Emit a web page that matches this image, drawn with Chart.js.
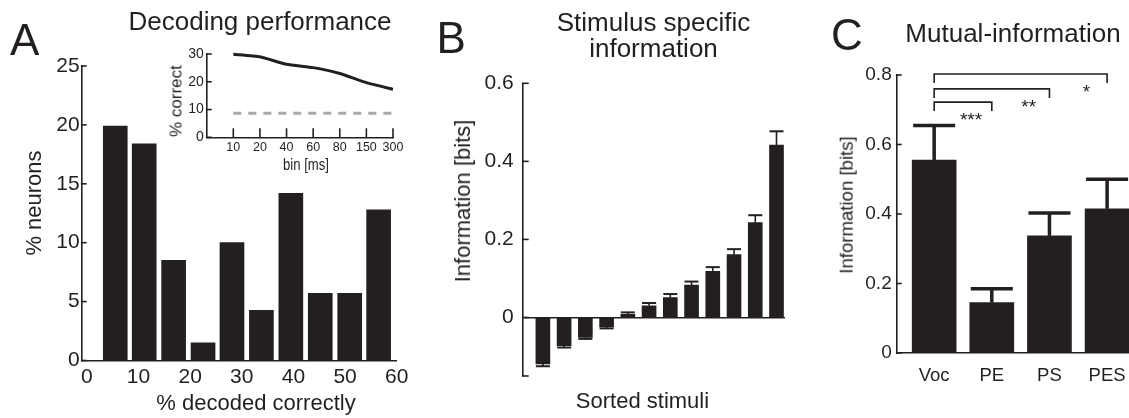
<!DOCTYPE html>
<html>
<head>
<meta charset="utf-8">
<script src="https://cdn.jsdelivr.net/npm/chart.js@4.4.1/dist/chart.umd.min.js"></script>
<style>
html,body{margin:0;padding:0;background:#fff;}
body{position:relative;width:1129px;height:418px;overflow:hidden;font-family:"Liberation Sans",Arial,Helvetica,sans-serif;color:#231f20;}
canvas{position:absolute;}
.t{position:absolute;white-space:nowrap;line-height:1;}
.hc{transform:translateX(-50%);text-align:center;}
.rot{transform:translate(-50%,-50%) rotate(-90deg);}
</style>
</head>
<body>
<canvas id="cA" width="430" height="418" style="left:0;top:0"></canvas>
<canvas id="cB" width="370" height="418" style="left:430px;top:0"></canvas>
<canvas id="cC" width="360" height="418" style="left:800px;top:0"></canvas>
<canvas id="cI" width="280" height="140" style="left:130px;top:40px"></canvas>

<div class="t" style="left:10px;top:17.8px;font-size:44px">A</div>
<div class="t" style="left:436.5px;top:16px;font-size:44px">B</div>
<div class="t" style="left:831px;top:12.8px;font-size:44px">C</div>

<div class="t hc" style="left:260px;top:8px;font-size:26px">Decoding performance</div>
<div class="t hc" style="left:653.5px;top:8.7px;font-size:26px;line-height:26px">Stimulus specific<br>information</div>
<div class="t hc" style="left:1013px;top:19.7px;font-size:26px">Mutual-information</div>

<div class="t hc" style="left:256px;top:392.4px;font-size:22px">% decoded correctly</div>
<div class="t rot" style="left:34px;top:203px;font-size:22px">% neurons</div>
<div class="t rot" style="left:463.4px;top:200.7px;font-size:22px">Information [bits]</div>
<div class="t hc" style="left:642.5px;top:389.7px;font-size:22px">Sorted stimuli</div>
<div class="t rot" style="left:846.9px;top:205px;font-size:18.6px">Information [bits]</div>
<div class="t rot" style="left:175.8px;top:101px;font-size:17px">% correct</div>
<div class="t" style="left:306px;top:157.2px;font-size:16px;transform:translateX(-50%) scaleX(0.82)">bin [ms]</div>

<script>
// ---------- data ----------
// Panel A: histogram
const binCentersA = [5.5, 11.1, 16.8, 22.5, 28.1, 33.8, 39.5, 45.2, 50.9, 56.5];
const pctNeurons  = [19.9, 18.4, 8.5, 1.5, 10.0, 4.25, 14.2, 5.7, 5.7, 12.8];
const xTicksA = [0, 10, 20, 30, 40, 50, 60];
const yTicksA = [0, 5, 10, 15, 20, 25];
// Panel A inset
const binLabels   = ['10', '20', '40', '60', '80', '150', '300'];
const pctCorrect  = [29.9, 29.0, 26.3, 25.1, 23.0, 19.7, 17.3];
const chanceLevel = [8.7, 8.7, 8.7, 8.7, 8.7, 8.7, 8.7];
const yTicksInset = [0, 10, 20, 30];
// Panel B
const stimuli = [1, 2, 3, 4, 5, 6, 7, 8, 9, 10, 11, 12];
const ssi     = [-0.119, -0.072, -0.051, -0.024, 0.008, 0.030, 0.051, 0.083, 0.118, 0.161, 0.243, 0.442];
const ssiErr  = [0.006, 0.005, 0.004, 0.004, 0.005, 0.007, 0.009, 0.009, 0.011, 0.014, 0.019, 0.035];
const yTicksB = [0, 0.2, 0.4, 0.6];
const yMinB = -0.15;
// Panel C
const miCats = ['Voc', 'PE', 'PS', 'PES'];
const mi     = [0.555, 0.145, 0.337, 0.415];
const miErr  = [0.100, 0.040, 0.066, 0.085];
const yTicksC = [0, 0.2, 0.4, 0.6, 0.8];
const sigPairs  = [[0, 1], [0, 2], [0, 3]];
const sigLevels = [0.722, 0.760, 0.803];
const sigLabels = ['***', '**', '*'];

// ---------- helpers ----------
const INK = '#231f20';
const FAM = '"Liberation Sans", Arial, Helvetica, sans-serif';
Chart.defaults.font.family = FAM;
Chart.defaults.color = INK;

function setTicks(values) { return function (scale) { scale.ticks = values.map(v => ({ value: v })); }; }
function boxWidth(w) { return function (scale) { scale.width = w; }; }
function boxHeight(h) { return function (scale) { scale.height = h; }; }
const hiddenGrid = { display: true, drawOnChartArea: false, drawTicks: false };
const axisBorder = { display: true, color: INK, width: 1.6 };
const baseOpts = {
  responsive: false, animation: false, devicePixelRatio: 1, events: [],
  plugins: { legend: { display: false }, tooltip: { enabled: false } }
};

function inwardTicks(specs) {
  return {
    id: 'inwardTicks',
    afterDraw(chart) {
      const ctx = chart.ctx;
      ctx.save();
      ctx.strokeStyle = INK; ctx.lineWidth = 1.6;
      specs.forEach(s => {
        const sc = chart.scales[s.axis];
        const vals = s.values || sc.ticks.map(t => t.value);
        vals.forEach(v => {
          const p = sc.getPixelForValue(v);
          ctx.beginPath();
          if (sc.isHorizontal()) { ctx.moveTo(p, sc.top); ctx.lineTo(p, sc.top - s.len); }
          else { ctx.moveTo(sc.right - 0.8, p); ctx.lineTo(sc.right + s.len, p); }
          ctx.stroke();
        });
      });
      ctx.restore();
    }
  };
}

function errorBars(values, errs, capW, stemW, capLW) {
  return {
    id: 'errorBars',
    afterDatasetsDraw(chart) {
      const ctx = chart.ctx, ys = chart.scales.y, meta = chart.getDatasetMeta(0);
      ctx.save();
      ctx.strokeStyle = INK;
      meta.data.forEach((bar, i) => {
        const v = values[i], e = errs[i];
        const end = v < 0 ? v - e : v + e;
        const y0 = ys.getPixelForValue(v), y1 = ys.getPixelForValue(end);
        ctx.lineWidth = stemW;
        ctx.beginPath(); ctx.moveTo(bar.x, y0); ctx.lineTo(bar.x, y1); ctx.stroke();
        ctx.lineWidth = capLW;
        ctx.beginPath(); ctx.moveTo(bar.x - capW / 2, y1); ctx.lineTo(bar.x + capW / 2, y1); ctx.stroke();
      });
      ctx.restore();
    }
  };
}

function sigBrackets(pairs, levels, labels) {
  return {
    id: 'sigBrackets',
    afterDraw(chart) {
      const ctx = chart.ctx, xs = chart.scales.x, ys = chart.scales.y;
      ctx.save();
      ctx.strokeStyle = INK; ctx.fillStyle = INK; ctx.lineWidth = 1.6;
      ctx.font = '19px ' + FAM;
      ctx.textAlign = 'center'; ctx.textBaseline = 'alphabetic';
      pairs.forEach((p, i) => {
        const x1 = xs.getPixelForValue(p[0]), x2 = xs.getPixelForValue(p[1]);
        const y = ys.getPixelForValue(levels[i]);
        const leg = 9;
        ctx.beginPath();
        ctx.moveTo(x1, y + leg); ctx.lineTo(x1, y); ctx.lineTo(x2, y); ctx.lineTo(x2, y + leg);
        ctx.stroke();
        ctx.fillText(labels[i], xs.getPixelForValue(p[1] - 0.36), y + 24);
      });
      ctx.restore();
    }
  };
}

// ---------- Panel A ----------
new Chart(document.getElementById('cA'), {
  type: 'bar',
  data: { datasets: [{
    data: binCentersA.map((x, i) => ({ x: x, y: pctNeurons[i] })),
    backgroundColor: INK, borderWidth: 0, barThickness: 24
  }] },
  options: Object.assign({}, baseOpts, {
    layout: { padding: { left: 0, top: 66, right: 33.3, bottom: 0 } },
    scales: {
      x: {
        type: 'linear', min: -1, max: 60, offset: false,
        afterBuildTicks: setTicks(xTicksA), afterFit: boxHeight(57.5),
        grid: hiddenGrid, border: axisBorder,
        ticks: { font: { size: 21 }, color: INK, padding: 4, autoSkip: false, maxRotation: 0, callback: v => String(v) }
      },
      y: {
        type: 'linear', min: 0, max: 25,
        afterBuildTicks: setTicks(yTicksA), afterFit: boxWidth(81.7),
        grid: hiddenGrid, border: axisBorder,
        ticks: { font: { size: 21 }, color: INK, padding: 2, callback: v => String(v) }
      }
    }
  }),
  plugins: [inwardTicks([{ axis: 'y', len: 5 }])]
});

// ---------- Panel A inset ----------
new Chart(document.getElementById('cI'), {
  type: 'line',
  data: { datasets: [
    { data: binLabels.map((b, i) => ({ x: i + 1, y: pctCorrect[i] })),
      borderColor: INK, borderWidth: 3, pointRadius: 0, fill: false, tension: 0.15, clip: false },
    { data: binLabels.map((b, i) => ({ x: i + 1, y: chanceLevel[i] })),
      borderColor: '#a7a9ac', borderWidth: 3, borderDash: [8, 7], pointRadius: 0, fill: false, clip: false }
  ] },
  options: Object.assign({}, baseOpts, {
    layout: { padding: { left: 0, top: 14, right: 17, bottom: 0 } },
    scales: {
      x: {
        type: 'linear', min: 0, max: 7, offset: false,
        afterBuildTicks: setTicks(binLabels.map((b, i) => i + 1)), afterFit: boxHeight(42.7),
        grid: hiddenGrid, border: axisBorder,
        ticks: { font: { size: 12.5 }, color: INK, padding: 3, autoSkip: false, maxRotation: 0,
                 callback: v => binLabels[v - 1] }
      },
      y: {
        type: 'linear', min: 0, max: 30,
        afterBuildTicks: setTicks(yTicksInset), afterFit: boxWidth(76.7),
        grid: hiddenGrid, border: axisBorder,
        ticks: { font: { size: 14 }, color: INK, padding: 3, callback: v => String(v) }
      }
    }
  }),
  plugins: [inwardTicks([{ axis: 'x', len: 9 }, { axis: 'y', len: 5 }])]
});

// ---------- Panel B ----------
new Chart(document.getElementById('cB'), {
  type: 'bar',
  data: { datasets: [{
    data: stimuli.map((s, i) => ({ x: s, y: ssi[i] })),
    backgroundColor: INK, borderWidth: 0, barThickness: 14
  }] },
  options: Object.assign({}, baseOpts, {
    layout: { padding: { left: 0, top: 83.3, right: 15, bottom: 42 } },
    scales: {
      x: { type: 'linear', min: 0.05, max: 12.4, offset: false, display: false },
      y: {
        type: 'linear', min: yMinB, max: 0.6,
        afterBuildTicks: setTicks(yTicksB), afterFit: boxWidth(92.7),
        grid: { display: true, drawOnChartArea: true, drawTicks: false, lineWidth: 1.6,
                color: c => (c.tick && c.tick.value === 0) ? INK : 'rgba(0,0,0,0)' },
        border: axisBorder,
        ticks: { font: { size: 21 }, color: INK, padding: 9, callback: v => v === 0 ? '0' : v.toFixed(1) }
      }
    }
  }),
  plugins: [inwardTicks([{ axis: 'y', len: 6, values: [yMinB].concat(yTicksB) }]),
            errorBars(ssi, ssiErr, 14, 1.6, 2)]
});

// ---------- Panel C ----------
new Chart(document.getElementById('cC'), {
  type: 'bar',
  data: { datasets: [{
    data: miCats.map((c, i) => ({ x: i, y: mi[i] })),
    backgroundColor: INK, borderWidth: 0, barThickness: 44
  }] },
  options: Object.assign({}, baseOpts, {
    layout: { padding: { left: 0, top: 75, right: 31, bottom: 0 } },
    scales: {
      x: {
        type: 'linear', min: -0.65, max: 3.38, offset: false,
        afterBuildTicks: setTicks(miCats.map((c, i) => i)), afterFit: boxHeight(65),
        grid: hiddenGrid, border: axisBorder,
        ticks: { font: { size: 18.5 }, color: INK, padding: 12, autoSkip: false, maxRotation: 0,
                 callback: v => miCats[v] }
      },
      y: {
        type: 'linear', min: 0, max: 0.8,
        afterBuildTicks: setTicks(yTicksC), afterFit: boxWidth(96.7),
        grid: hiddenGrid, border: axisBorder,
        ticks: { font: { size: 19 }, color: INK, padding: 5, callback: v => v === 0 ? '0' : v.toFixed(1) }
      }
    }
  }),
  plugins: [inwardTicks([{ axis: 'y', len: 5 }]),
            errorBars(mi, miErr, 42, 3.5, 3.5),
            sigBrackets(sigPairs, sigLevels, sigLabels)]
});
</script>
</body>
</html>
